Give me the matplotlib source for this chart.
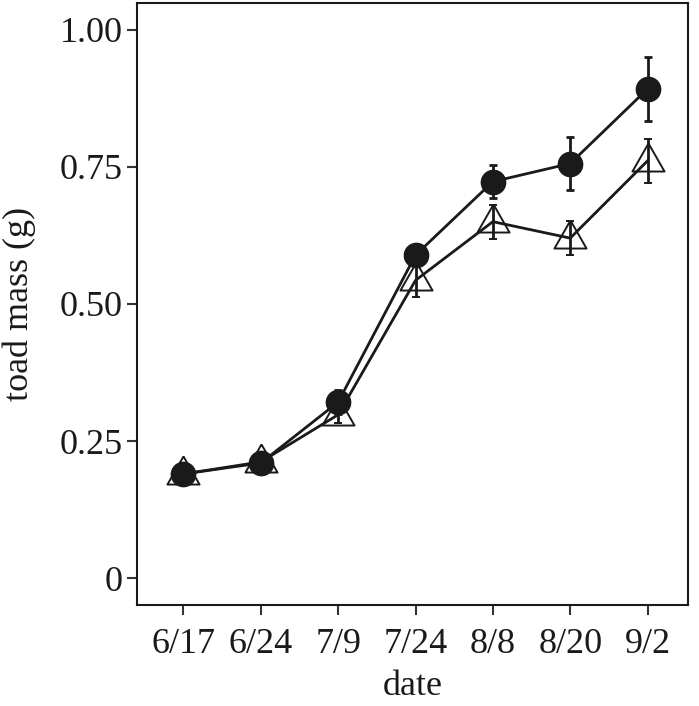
import matplotlib
matplotlib.use("Agg")
import matplotlib.pyplot as plt
import numpy as np

dates = ["6/17", "6/24", "7/9", "7/24", "8/8", "8/20", "9/2"]
circle_mean = [0.190, 0.210, 0.321, 0.589, 0.723, 0.756, 0.892]
circle_err = [0.008, 0.008, 0.022, 0.012, 0.030, 0.048, 0.058]
tri_mean = [0.190, 0.212, 0.298, 0.543, 0.650, 0.620, 0.761]
tri_err = [0.008, 0.008, 0.015, 0.030, 0.031, 0.031, 0.040]

plt.rcParams['font.family'] = ['Liberation Serif', 'DejaVu Serif']

fig = plt.figure(figsize=(6.99, 7.06), dpi=100)
ax = fig.add_axes([0.196, 0.143, 0.788, 0.853])
x = np.arange(len(dates))

tri_marker = [(0, 18), (-16, -10), (16, -10), (0, 18)]

ax.errorbar(x, tri_mean, yerr=tri_err, color='#1a1a1a', lw=2.0, elinewidth=2.0,
            capsize=3, capthick=2.0, marker=tri_marker, ms=26, mfc='none', mec='#1a1a1a',
            mew=1.4, zorder=2)
ax.errorbar(x, circle_mean, yerr=circle_err, color='#1a1a1a', lw=2.0, elinewidth=2.0,
            capsize=3, capthick=2.0, marker='o', ms=17.5, mfc='#1a1a1a', mec='#1a1a1a',
            zorder=3)

ax.set_xlim(-0.6, 6.52)
ax.set_ylim(-0.049, 1.049)
ax.set_xticks(x)
ax.set_xticklabels(dates)
ax.set_yticks([0, 0.25, 0.5, 0.75, 1.0])
ax.set_yticklabels(["0", "0.25", "0.50", "0.75", "1.00"])
ax.tick_params(labelsize=26, length=7, width=1.5, color='#333333', labelcolor='#1a1a1a')
ax.tick_params(axis='y', pad=3.5)
ax.tick_params(axis='x', pad=9.5)
for s in ax.spines.values():
    s.set_linewidth(1.5)
    s.set_color('#1a1a1a')
ax.set_xlabel("date", fontsize=26, color='#1a1a1a', labelpad=6.5)
ax.set_ylabel("toad mass (g)", fontsize=26, color='#1a1a1a', labelpad=17)

fig.savefig("out.png", dpi=100)
